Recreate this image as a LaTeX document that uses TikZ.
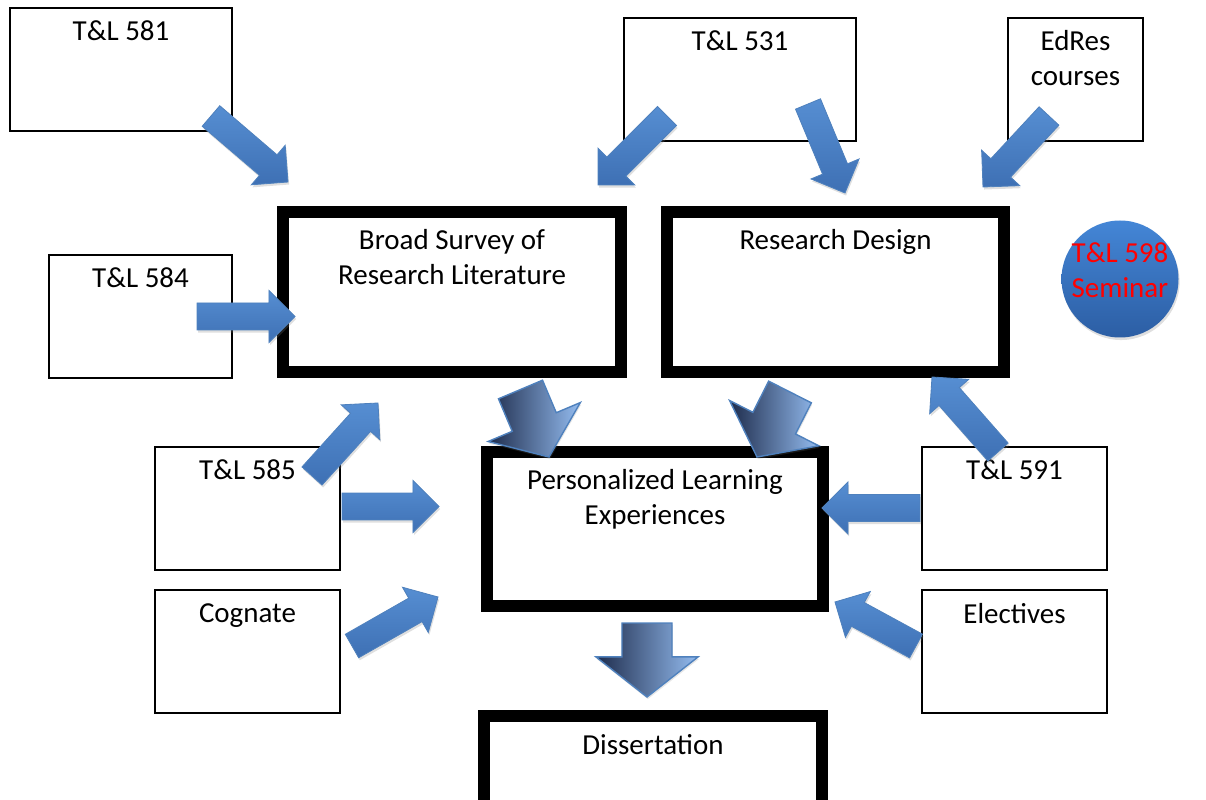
\documentclass[tikz,border=0pt]{standalone}
\usepackage{fontspec}
\setmainfont{Carlito}
\usetikzlibrary{calc,positioning,shadows}

\def\pxu{0.025cm}
\definecolor{arrowfill}{RGB}{74,126,193}
\definecolor{arrowtop}{RGB}{86,142,210}
\definecolor{arrowbot}{RGB}{62,112,180}
\definecolor{arrowline}{RGB}{79,129,189}
\definecolor{bigdark}{RGB}{30,44,76}
\definecolor{bigmid}{RGB}{112,150,208}
\definecolor{biglight}{RGB}{148,188,240}
\definecolor{semtop}{RGB}{68,134,214}
\definecolor{sembot}{RGB}{44,94,164}

% block arrow: [style] tail, tip, half shaft, half head, head length
\newcommand{\blockarrow}[6][]{%
  \coordinate (ba) at ($(#3)!#6!(#2)$);
  \path[#1] ($(#2)!#4!90:(#3)$) -- ($(ba)!#4!90:(#3)$) -- ($(ba)!#5!90:(#3)$) -- (#3)
    -- ($(ba)!#5!-90:(#3)$) -- ($(ba)!#4!-90:(#3)$) -- ($(#2)!#4!-90:(#3)$) -- cycle;
}

\tikzset{
  thinbox/.style={draw, line width=1.1pt, outer sep=0pt, inner sep=0pt},
  thickbox/.style={draw, line width=8.5pt, outer sep=0pt, inner sep=0pt, fill=white},
  sz/.style 2 args={minimum width=#1*\pxu, minimum height=#2*\pxu},
  lbl/.style={inner sep=0pt, align=center, font=\fontsize{20.6}{24.9}\selectfont},
  bluearrow/.style={draw=arrowline, line width=0.6pt, top color=arrowtop, bottom color=arrowbot,
    drop shadow={shadow xshift=0.8pt, shadow yshift=-1.8pt, opacity=0.25}},
  bigarrow/.style={draw=arrowline, line width=1pt, left color=bigdark, middle color=bigmid, right color=biglight,
    drop shadow={shadow xshift=0.6pt, shadow yshift=-1.5pt, opacity=0.2}}
}

\begin{document}
\begin{tikzpicture}[x=0.025cm, y=-0.025cm]
    \useasboundingbox (0,0) rectangle (1206,800);
    \clip (0,0) rectangle (1206,800);

    % Course boxes
    \node[thinbox, sz={222}{123}] (b581) at (121,69.5) {};
    \node[thinbox, sz={232}{123}] (b531) at (740,79.5) {};
    \node[thinbox, sz={135}{123}] (bedres) at (1075.5,79.5) {};
    \node[thinbox, sz={183}{123}] (b584) at (140.5,316.5) {};
    \node[thinbox, sz={185}{123}] (b585) at (247.5,508.5) {};
    \node[thinbox, sz={185}{123}] (bcog) at (247.5,651.5) {};
    \node[thinbox, sz={185}{123}] (b591) at (1014.5,508.5) {};
    \node[thinbox, sz={185}{123}] (belec) at (1014.5,651.5) {};

    \node[lbl, below=0.31cm of b581.north] (t581) {T\&L 581};
    \node[lbl, below=0.31cm of b531.north] (t531) {T\&L 531};
    \node[lbl, below=0.31cm of bedres.north] (tedres) {EdRes\\courses};
    \node[lbl, below=0.31cm of b584.north] (t584) {T\&L 584};
    \node[lbl, below=0.31cm of b585.north] (t585) {T\&L 585};
    \node[lbl, below=0.33cm of bcog.north] (tcog) {Cognate};
    \node[lbl, below=0.31cm of b591.north] (t591) {T\&L 591};
    \node[lbl, below=0.33cm of belec.north] (telec) {Electives};

    % Main stages
    \node[thickbox, sz={338}{160}] (survey) at (452,292) {};
    \node[thickbox, sz={337}{160}] (design) at (835.5,292) {};
    \node[thickbox, sz={336}{154}] (plex) at (655,529) {};
    \node[thickbox, sz={338}{144}] (diss) at (653,788) {};

    \node[lbl, below=0.43cm of survey.north] (tsurvey) {Broad Survey of\\Research Literature};
    \node[lbl, below=0.43cm of design.north] (tdesign) {Research Design};
    \node[lbl, below=0.43cm of plex.north] (tplex) {Personalized Learning\\Experiences};
    \node[lbl, below=0.45cm of diss.north] (tdiss) {Dissertation};

    % Seminar
    \node[circle, minimum size=117*\pxu, inner sep=0pt, top color=semtop, bottom color=sembot,
      drop shadow={shadow xshift=0.8pt, shadow yshift=-1.8pt, opacity=0.25}] (sem) at (1120,279) {};
    \node[lbl, text=red] (tsem) at (1120,270) {T\&L 598\\Seminar};

    % Arrow ends
    \coordinate (a1s) at (211,116);   \coordinate (a1e) at (288,182);
    \coordinate (a2s) at (667,116);   \coordinate (a2e) at (598,185);
    \coordinate (a3s) at (808,104);   \coordinate (a3e) at (845,193);
    \coordinate (a4s) at (1049,116);  \coordinate (a4e) at (983,187);
    \coordinate (a5s) at (197,316.5); \coordinate (a5e) at (295,316.5);
    \coordinate (a6s) at (312,476);   \coordinate (a6e) at (378,403);
    \coordinate (a7s) at (342,506.5); \coordinate (a7e) at (439,506.5);
    \coordinate (a8s) at (352,646);   \coordinate (a8e) at (438,597);
    \coordinate (a9s) at (998,452);   \coordinate (a9e) at (932,377);
    \coordinate (a10s) at (920,508);  \coordinate (a10e) at (822,508);
    \coordinate (a11s) at (916,646);  \coordinate (a11e) at (835,602);
    \coordinate (b1s) at (520.5,389.5); \coordinate (b1e) at (549,457);
    \coordinate (b2s) at (790,392);   \coordinate (b2e) at (757,457);
    \coordinate (b3s) at (647,623);   \coordinate (b3e) at (647,697);

    % Blue arrows
    \foreach \i in {1,...,11} {
        \blockarrow[bluearrow]{a\i s}{a\i e}{9.6pt}{18.5pt}{18.5pt}
    }

    % Shaded arrows
    \blockarrow[bigarrow]{b1s}{b1e}{17pt}{35.6pt}{27pt}
    \blockarrow[bigarrow]{b2s}{b2e}{17pt}{35.6pt}{27pt}
    \blockarrow[bigarrow]{b3s}{b3e}{17.8pt}{36.3pt}{28.5pt}
\end{tikzpicture}
\end{document}
